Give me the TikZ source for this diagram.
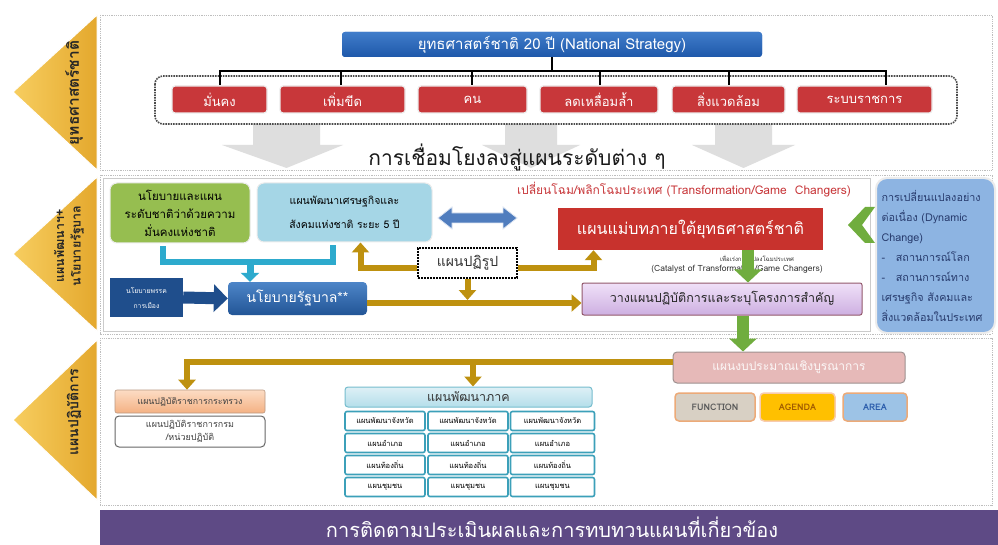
\documentclass[tikz,border=0pt]{standalone}
\usepackage{fontspec}
\setmainfont[Script=Thai]{Loma}
\usetikzlibrary{arrows.meta,calc}
\definecolor{gold}{RGB}{190,145,15}
\definecolor{chevL}{RGB}{247,206,96}
\definecolor{chevR}{RGB}{228,168,45}
\definecolor{nsblue}{RGB}{43,110,196}
\definecolor{nsblueD}{RGB}{30,88,170}
\definecolor{sred}{RGB}{200,55,58}
\definecolor{mred}{RGB}{200,50,45}
\definecolor{olive}{RGB}{150,190,80}
\definecolor{ltcyan}{RGB}{165,214,230}
\definecolor{navy}{RGB}{31,78,140}
\definecolor{govblue}{RGB}{46,112,190}
\definecolor{cyanline}{RGB}{45,170,205}
\definecolor{dblue}{RGB}{80,125,190}
\definecolor{dynblue}{RGB}{141,180,226}
\definecolor{dyntext}{RGB}{40,60,110}
\definecolor{lgreen}{RGB}{112,173,62}
\definecolor{purpL}{RGB}{240,225,248}
\definecolor{purpD}{RGB}{205,175,225}
\definecolor{pinkbox}{RGB}{230,185,184}
\definecolor{barpurple}{RGB}{94,74,133}
\definecolor{teal}{RGB}{60,160,185}
\definecolor{regL}{RGB}{222,240,246}
\definecolor{regD}{RGB}{180,222,234}
\definecolor{orgL}{RGB}{252,220,196}
\definecolor{orgD}{RGB}{244,177,131}
\definecolor{panelgray}{RGB}{190,190,190}
\definecolor{arrowgray}{RGB}{222,222,222}
\begin{document}
\begin{tikzpicture}[x=1pt,y=-1pt,
  fs/.style={font=\fontsize{#1}{#1}\linespread{1.25}\selectfont},
  panel/.style={draw=panelgray, densely dotted, line width=0.8pt},
  chev/.style={left color=chevL, right color=chevR, draw=white, line width=1pt},
  chevtext/.style={rotate=90, align=center, text=black!85},
  redbox/.style={fill=sred, draw=white!85!gray, line width=1.2pt, rounded corners=3pt, minimum height=27pt, text=white, fs=13, inner sep=0pt},
  goldarr/.style={draw=gold, line width=6pt, -{Triangle[width=17pt,length=10pt]}},
  greenarr/.style={draw=lgreen, line width=12pt, -{Triangle[width=27pt,length=13pt]}},
  gridbox/.style={draw=teal, line width=1.6pt, fill=white, rounded corners=2pt, minimum width=80pt, minimum height=19pt, inner sep=0pt, fs=7.5},
  tagbox/.style={rounded corners=4pt, line width=1.5pt, minimum height=28pt, inner sep=0pt, font=\fontsize{9}{10}\selectfont\bfseries}
]
\useasboundingbox (0,0) rectangle (998,545);
\fill[white] (0,0) rectangle (998,545);

% ---------- panels ----------
\draw[panel] (100,15) rectangle (992,170);
\draw[panel] (100,175) rectangle (992,334);
\draw[panel] (100,338) rectangle (992,505);
\draw[draw=panelgray!80, line width=0.6pt] (103,178) rectangle (870,331);

% ---------- chevrons ----------
\path[chev] (97,15) -- (13,92) -- (97,170) -- cycle;
\path[chev] (97,177) -- (13,254) -- (97,331) -- cycle;
\path[chev] (97,340) -- (13,420) -- (97,500) -- cycle;
\node[chevtext, font=\fontsize{15.5}{16}\selectfont\bfseries] (c1) at (74,93) {ยุทธศาสตร์ชาติ};
\node[chevtext, font=\fontsize{12.5}{16.5}\selectfont\bfseries] (c2) at (69,246) {แผนพัฒนาฯ+\\นโยบายรัฐบาล};
\node[chevtext, font=\fontsize{14}{15}\selectfont\bfseries] (c3) at (74,412) {แผนปฏิบัติการ};

% ---------- section 1 ----------
\fill[arrowgray] (253,124) -- (320,124) -- (320,145) -- (343,145) -- (286.5,168) -- (222,145) -- (253,145) -- cycle;
\fill[arrowgray] (505,124) -- (557,124) -- (557,145) -- (580,145) -- (531,168) -- (482,145) -- (505,145) -- cycle;
\fill[arrowgray] (715,124) -- (772,124) -- (772,145) -- (795,145) -- (743.5,168) -- (692,145) -- (715,145) -- cycle;

\node[fill=nsblue, top color=nsblue!90!white, bottom color=nsblueD, rounded corners=3pt, minimum width=420pt, minimum height=25pt, text=white, fs=15, inner sep=0pt] (ns) at (552,44.5) {ยุทธศาสตร์ชาติ 20 ปี (National Strategy)};

\draw[black!70, densely dotted, line width=1.6pt, rounded corners=8pt] (155,76) rectangle (957,124);

\node[redbox, minimum width=95pt]  (r1) at (219.5,99.5) {มั่นคง};
\node[redbox, minimum width=125pt] (r2) at (342.5,99.5) {เพิ่มขีด};
\node[redbox, minimum width=109pt] (r3) at (472.5,99.5) {คน};
\node[redbox, minimum width=118pt] (r4) at (599,99.5) {ลดเหลื่อมล้ำ};
\node[redbox, minimum width=113pt] (r5) at (728.5,99.5) {สิ่งแวดล้อม};
\node[redbox, minimum width=135pt] (r6) at (864.5,99.5) {ระบบราชการ};

\coordinate (bus) at (552,71);
\draw[black, line width=2.2pt] (ns.south) -- (bus);
\foreach \n/\dx in {r1/0.5,r2/-1.5,r3/-0.5,r4/1,r5/0.5,r6/21.5}{
  \coordinate (t\n) at ($(\n.north)+(\dx,0)$);
  \draw[black, line width=2.2pt] (t\n |- bus) -- (t\n);
}
\draw[black, line width=2.2pt, line cap=rect] (tr1 |- bus) -- (tr6 |- bus);

\node[fs=21, text=black!90, inner sep=0pt] (link) at (517,157) {การเชื่อมโยงลงสู่แผนระดับต่าง ๆ};

% ---------- section 2 ----------
\node[fill=olive, draw=white!85!gray, line width=1pt, rounded corners=7pt, minimum width=140pt, minimum height=60pt, align=center, font=\fontsize{11.5}{18}\selectfont, inner sep=0pt] (green) at (180,213) {นโยบายและแผน\\ระดับชาติว่าด้วยความ\\มั่นคงแห่งชาติ};
\node[fill=ltcyan, draw=white!85!gray, line width=1pt, rounded corners=7pt, minimum width=175pt, minimum height=59pt, align=center, font=\fontsize{10.5}{24}\selectfont, inner sep=0pt] (ltblue) at (344.5,212.5) {แผนพัฒนาเศรษฐกิจและ\\สังคมแห่งชาติ ระยะ 5 ปี};

\node[text=sred, fs=12, inner sep=0pt] (transf) at (684,190) {เปลี่ยนโฉม/พลิกโฉมประเทศ (Transformation/Game~~Changers)};
\node[fill=mred, minimum width=265pt, minimum height=42pt, text=white, fs=16, inner sep=0pt] (redmain) at (690.5,229) {แผนแม่บทภายใต้ยุทธศาสตร์ชาติ};
\node[fs=6, inner sep=0pt, text=black!80] (cat1) at (757,258) {เพื่อเร่งการแปลงโฉมประเทศ};
\node[fs=8.5, inner sep=0pt, text=black!80] (cat2) at (737,269) {(Catalyst of Transformation/Game Changers)};

\node[top color=purpL, bottom color=purpD, draw=gray!70!purple, line width=1pt, rounded corners=2pt, minimum width=280pt, minimum height=32pt, fs=12.5, inner sep=0pt, text=black!85] (purple) at (722,299) {วางแผนปฏิบัติการและระบุโครงการสำคัญ};

\node[draw=black, densely dotted, line width=2pt, fill=white, minimum width=99pt, minimum height=30pt, fs=14, inner sep=0pt, text=black!80] (reform) at (467.5,263) {แผนปฏิรูป};

\node[fill=navy, minimum width=73pt, minimum height=39pt, align=center, text=white, font=\fontsize{6.8}{15}\selectfont, inner sep=0pt] (party) at (146.5,297.5) {นโยบายพรรค\\การเมือง};
\node[top color=govblue!85!white, bottom color=navy!80!govblue, rounded corners=4pt, minimum width=139pt, minimum height=33pt, text=white, fs=14, inner sep=0pt] (gov) at (297.5,298.5) {นโยบายรัฐบาล**};

\node[fill=dynblue, draw=white!85!gray, line width=2pt, rounded corners=11pt, minimum width=119pt, minimum height=155pt, align=left, text=dyntext, font=\fontsize{10.8}{20}\selectfont, inner sep=0pt, text width=108pt] (dyn) at (935.5,255.5) {การเปลี่ยนแปลงอย่าง\\ต่อเนื่อง (Dynamic\\Change)\\-\quad สถานการณ์โลก\\-\quad สถานการณ์ทาง\\เศรษฐกิจ สังคมและ\\สิ่งแวดล้อมในประเทศ};

% cyan bracket
\coordinate (brk) at (250,262);
\coordinate (bl) at ($(green.south)+(-17,3)$);
\coordinate (br) at ($(ltblue.south)+(-11.5,3)$);
\draw[cyanline, line width=6pt, line cap=butt, line join=miter] (bl) -- (bl |- brk) -- (br |- brk) -- (br);
\draw[cyanline, line width=7pt, -{Triangle[width=18pt,length=9pt]}] (brk) -- (brk |- gov.north);

% blue double arrow
\fill[dblue, draw=white!80!dblue, line width=0.8pt] (438,218) -- (452,207) -- (452,213) -- (503,213) -- (503,207) -- (517,218) -- (503,229) -- (503,223) -- (452,223) -- (452,229) -- cycle;

% navy arrow party -> gov
\draw[navy, line width=12pt, -{Triangle[width=27pt,length=14pt]}] (party.east) -- (gov.west);

% gold arrows around reform
\draw[goldarr] ($(reform.west)+(0,5)$) -| ($(ltblue.south)+(16,0)$);
\draw[goldarr] ($(reform.east)+(0,5)$) -| ($(redmain.south)+(-97,0)$);
\draw[goldarr] (reform.south) -- ($(reform.south)+(0,21)$);
\draw[goldarr] ($(gov.east)+(0,4.5)$) -- ($(purple.west)+(0,4)$);

% green chevron
\fill[lgreen] (848,225) -- (865,207) -- (875,207) -- (862,225) -- (875,243) -- (865,243) -- cycle;

% ---------- section 3 ----------
\node[fill=pinkbox, draw=gray!70!pinkbox, line width=1pt, rounded corners=4pt, minimum width=232pt, minimum height=31pt, text=white!90!pinkbox, fs=12, inner sep=0pt] (pink) at (789,367.5) {แผนงบประมาณเชิงบูรณาการ};

% green arrows
\coordinate (ga) at ($(redmain.south)+(57.5,0)$);
\coordinate (gb) at ($(purple.south)+(21,0)$);
\draw[greenarr] (ga) -- (ga |- purple.north);
\draw[greenarr] (gb) -- (gb |- pink.north);

\node[tagbox, fill={rgb,255:red,216;green,208;blue,196}, draw={rgb,255:red,236;green,170;blue,120}, minimum width=80pt, text=black!65] (fn) at (715,407) {FUNCTION};
\node[tagbox, fill={rgb,255:red,255;green,192;blue,0}, draw={rgb,255:red,248;green,203;blue,173}, minimum width=75pt, text={rgb,255:red,160;green,90;blue,0}] (ag) at (797.5,407) {AGENDA};
\node[tagbox, fill={rgb,255:red,157;green,195;blue,230}, draw={rgb,255:red,236;green,170;blue,120}, minimum width=64pt, text={rgb,255:red,40;green,90;blue,170}] (ar) at (875,407) {AREA};

\node[top color=orgL, bottom color=orgD, draw=gray!50!orgD, line width=0.6pt, rounded corners=2pt, minimum width=150pt, minimum height=23pt, fs=8.8, inner sep=0pt, text=black!75] (ministry) at (190,401.5) {แผนปฏิบัติราชการกระทรวง};
\node[fill=white, draw=gray!80!black, line width=1pt, rounded corners=4pt, minimum width=150pt, minimum height=31pt, align=center, font=\fontsize{9}{13}\selectfont, inner sep=0pt, text=black!75] (dept) at (190,431.5) {แผนปฏิบัติราชการกรม\\/หน่วยปฏิบัติ};

\node[top color=regL, bottom color=regD, draw=teal!70, line width=1pt, rounded corners=3pt, minimum width=247pt, minimum height=20pt, fs=12.5, inner sep=0pt, text=black!80] (region) at (468.5,397) {แผนพัฒนาภาค};

\foreach \r/\y/\t in {1/421/แผนพัฒนาจังหวัด,2/443/แผนอำเภอ,3/465/แผนท้องถิ่น,4/487/แผนชุมชน}{
  \node[gridbox] (g\r a) at (385,\y) {\t};
  \node[gridbox] (g\r b) at (468,\y) {\t};
  \node[gridbox, minimum width=84pt] (g\r c) at (552.5,\y) {\t};
}

\coordinate (gsplit) at (473,362);
\draw[goldarr] ($(pink.west)+(0,-5.5)$) -| ($(ministry.north)+(-3,0)$);
\draw[goldarr] (gsplit) -- (gsplit |- region.north);

% ---------- bottom bar ----------
\fill[barpurple] (100,510) rectangle (998,545);
\node[text=white, fs=20, inner sep=0pt] (bar) at (552,527.5) {การติดตามประเมินผลและการทบทวนแผนที่เกี่ยวข้อง};
\end{tikzpicture}
\end{document}
